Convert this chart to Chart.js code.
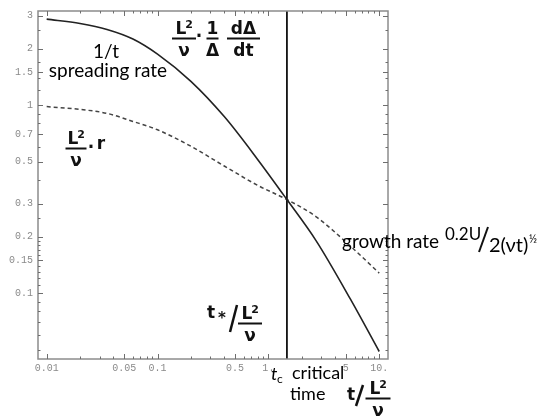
<!DOCTYPE html>
<html>
<head>
<meta charset="utf-8">
<script src="https://cdn.jsdelivr.net/npm/chart.js@4.4.1/dist/chart.umd.min.js"></script>
<style>
  html, body { margin: 0; padding: 0; background: #fff; }
  #wrap { width: 550px; height: 419px; }
</style>
</head>
<body>
<div id="wrap"><canvas id="c" width="550" height="419"></canvas></div>
<script>
// Dimensionless time t / (L^2/nu)
const times = [0.01, 0.02, 0.035, 0.06, 0.1, 0.2, 0.4, 0.8, 1.47, 2.7, 5.5, 10];
// (L^2/nu) * (1/Delta) dDelta/dt : spreading rate ~ 1/t
const spreadingRate = [2.87, 2.72, 2.53, 2.25, 1.87, 1.34, 0.87, 0.515, 0.315, 0.19, 0.093, 0.049];
// (L^2/nu) * r : growth rate ~ 0.2U / 2(nu t)^1/2
const growthRate = [0.983, 0.95, 0.905, 0.82, 0.74, 0.605, 0.475, 0.375, 0.315, 0.255, 0.178, 0.128];
// critical time where the two rates cross
const criticalTime = 1.47;

// axis ranges and ticks
const xRange = [0.00835, 12];
const yRange = [0.0447, 3.17];
const xMajorTicks = [0.01, 0.05, 0.1, 0.5, 1, 5, 10];
const xTickLabels = ['0.01', '0.05', '0.1', '0.5', '1.', '5', '10.'];
const xMinorTicks = [0.02, 0.03, 0.04, 0.06, 0.07, 0.08, 0.09, 0.2, 0.3, 0.4, 0.6, 0.7, 0.8, 0.9, 2, 3, 4, 6, 7, 8, 9];
const yMajorTicks = [0.1, 0.15, 0.2, 0.3, 0.5, 0.7, 1, 1.5, 2, 3];
const yTickLabels = ['0.1', '0.15', '0.2', '0.3', '0.5', '0.7', '1', '1.5', '2', '3'];
const yMinorTicks = [0.05, 0.06, 0.07, 0.08, 0.09, 0.11, 0.12, 0.13, 0.14, 0.16, 0.17, 0.18, 0.19, 0.25, 0.4, 0.6, 0.8, 0.9, 1.2, 1.4, 1.7, 2.5];

const HAND = 'bold 17px "DejaVu Sans"';
const HAND_SUP = 'bold 11px "DejaVu Sans"';
const SANS = '19px Lato';

function drawLSquared(ctx, cx, baseline) {
  ctx.font = HAND;
  ctx.textAlign = 'center';
  ctx.textBaseline = 'alphabetic';
  ctx.fillText('L', cx - 3, baseline);
  ctx.font = HAND_SUP;
  ctx.fillText('2', cx + 5, baseline - 6);
}

function fraction(ctx, cx, barY, barW, num, den) {
  ctx.lineWidth = 2;
  ctx.beginPath();
  ctx.moveTo(cx - barW / 2, barY);
  ctx.lineTo(cx + barW / 2, barY);
  ctx.stroke();
  ctx.textAlign = 'center';
  ctx.textBaseline = 'alphabetic';
  if (num === 'L2') {
    drawLSquared(ctx, cx, barY - 5);
  } else {
    ctx.font = HAND;
    ctx.fillText(num, cx, barY - 5);
  }
  ctx.font = HAND;
  ctx.fillText(den, cx, barY + 17);
}

function slash(ctx, x1, y1, x2, y2, w) {
  ctx.lineWidth = w;
  ctx.beginPath();
  ctx.moveTo(x1, y1);
  ctx.lineTo(x2, y2);
  ctx.stroke();
}

const framePlugin = {
  id: 'frame',
  afterDraw(chart) {
    const { ctx, chartArea: a, scales: { x, y } } = chart;
    ctx.save();
    // frame box
    ctx.strokeStyle = '#8c8c8c';
    ctx.lineWidth = 1.5;
    ctx.strokeRect(a.left, a.top, a.right - a.left, a.bottom - a.top);
    // inward ticks on all four sides
    ctx.strokeStyle = '#6e6e6e';
    ctx.lineWidth = 1;
    const xt = (v, len) => {
      const p = Math.round(x.getPixelForValue(v)) + 0.5;
      ctx.beginPath();
      ctx.moveTo(p, a.bottom); ctx.lineTo(p, a.bottom - len);
      ctx.moveTo(p, a.top); ctx.lineTo(p, a.top + len);
      ctx.stroke();
    };
    const yt = (v, len) => {
      const p = Math.round(y.getPixelForValue(v)) + 0.5;
      ctx.beginPath();
      ctx.moveTo(a.left, p); ctx.lineTo(a.left + len, p);
      ctx.moveTo(a.right, p); ctx.lineTo(a.right - len, p);
      ctx.stroke();
    };
    xMajorTicks.forEach(v => xt(v, 5));
    xMinorTicks.forEach(v => xt(v, 2.5));
    yMajorTicks.forEach(v => yt(v, 5));
    yMinorTicks.forEach(v => yt(v, 2.5));

    // handwritten annotations
    ctx.fillStyle = '#111';
    ctx.strokeStyle = '#111';
    // (L^2/nu) . (1/Delta) dDelta/dt
    fraction(ctx, 184, 38.5, 24, 'L2', 'ν');
    ctx.font = HAND; ctx.textAlign = 'center';
    ctx.fillText('·', 199, 42);
    fraction(ctx, 212.5, 38.5, 12, '1', 'Δ');
    fraction(ctx, 243.5, 38.5, 33, 'dΔ', 'dt');
    // (L^2/nu) . r
    fraction(ctx, 76, 148.5, 21, 'L2', 'ν');
    ctx.font = HAND; ctx.textAlign = 'center';
    ctx.fillText('·', 91, 153);
    ctx.fillText('r', 101, 149);
    // t* / (L^2/nu)
    ctx.font = HAND; ctx.textAlign = 'center';
    ctx.fillText('t', 211, 318);
    ctx.font = 'bold 15px "DejaVu Sans"';
    ctx.fillText('*', 222, 323);
    slash(ctx, 237, 305, 230, 332, 2.5);
    fraction(ctx, 250, 323.5, 24, 'L2', 'ν');
    // t / (L^2/nu)
    ctx.font = HAND; ctx.textAlign = 'center';
    ctx.fillText('t', 351, 400);
    slash(ctx, 363, 385, 356, 406, 2.5);
    fraction(ctx, 378, 398.5, 25, 'L2', 'ν');

    // text annotations
    ctx.fillStyle = '#000';
    ctx.textBaseline = 'alphabetic';
    ctx.font = SANS;
    ctx.textAlign = 'center';
    ctx.fillText('1/t', 106, 58);
    ctx.fillText('spreading rate', 108, 77);
    // critical time label
    ctx.textAlign = 'left';
    ctx.font = 'italic 18px Lato';
    ctx.fillText('t', 271, 380);
    ctx.font = '12px Lato';
    ctx.fillText('c', 277, 383);
    ctx.font = '18px Lato';
    ctx.fillText('critical', 292, 379);
    ctx.fillText('time', 290, 400);
    // growth rate label
    ctx.font = SANS;
    ctx.fillText('growth rate', 342, 248);
    ctx.font = '17px Lato';
    ctx.fillText('0.2U', 445, 240);
    slash(ctx, 488, 227, 479, 252, 2);
    ctx.font = '20px Lato';
    ctx.fillText('2(νt)', 489, 252);
    ctx.font = '11px Lato';
    ctx.fillText('½', 529, 243);
    ctx.restore();
  }
};

const toPoints = (xs, ys) => xs.map((t, i) => ({ x: t, y: ys[i] }));

new Chart(document.getElementById('c'), {
  type: 'line',
  data: {
    datasets: [
      {
        label: 'spreading rate',
        data: toPoints(times, spreadingRate),
        borderColor: '#222',
        borderWidth: 1.6,
        pointRadius: 0,
        cubicInterpolationMode: 'monotone'
      },
      {
        label: 'growth rate',
        data: toPoints(times, growthRate),
        borderColor: '#444',
        borderWidth: 1.5,
        borderDash: [4, 3],
        pointRadius: 0,
        cubicInterpolationMode: 'monotone'
      },
      {
        label: 'critical time',
        data: [{ x: criticalTime, y: yRange[0] }, { x: criticalTime, y: yRange[1] }],
        borderColor: '#111',
        borderWidth: 1.8,
        pointRadius: 0
      }
    ]
  },
  options: {
    responsive: false,
    animation: false,
    layout: { padding: { left: 0, right: 162, top: 11, bottom: 0 } },
    plugins: { legend: { display: false }, tooltip: { enabled: false } },
    scales: {
      x: {
        type: 'logarithmic',
        min: xRange[0],
        max: xRange[1],
        grid: { display: false },
        border: { display: false },
        afterFit: s => { s.height = 60; },
        afterBuildTicks: s => { s.ticks = xMajorTicks.map(v => ({ value: v })); },
        ticks: {
          autoSkip: false,
          maxRotation: 0,
          padding: -5,
          color: '#8a8a8a',
          font: { family: 'Liberation Mono', size: 10 },
          callback: (v, i) => xTickLabels[i]
        }
      },
      y: {
        type: 'logarithmic',
        min: yRange[0],
        max: yRange[1],
        grid: { display: false },
        border: { display: false },
        afterFit: s => { s.width = 38; },
        afterBuildTicks: s => { s.ticks = yMajorTicks.map(v => ({ value: v })); },
        ticks: {
          autoSkip: false,
          padding: -3,
          color: '#8a8a8a',
          font: { family: 'Liberation Mono', size: 10 },
          callback: (v, i) => yTickLabels[i]
        }
      }
    }
  },
  plugins: [framePlugin]
});
</script>
</body>
</html>
